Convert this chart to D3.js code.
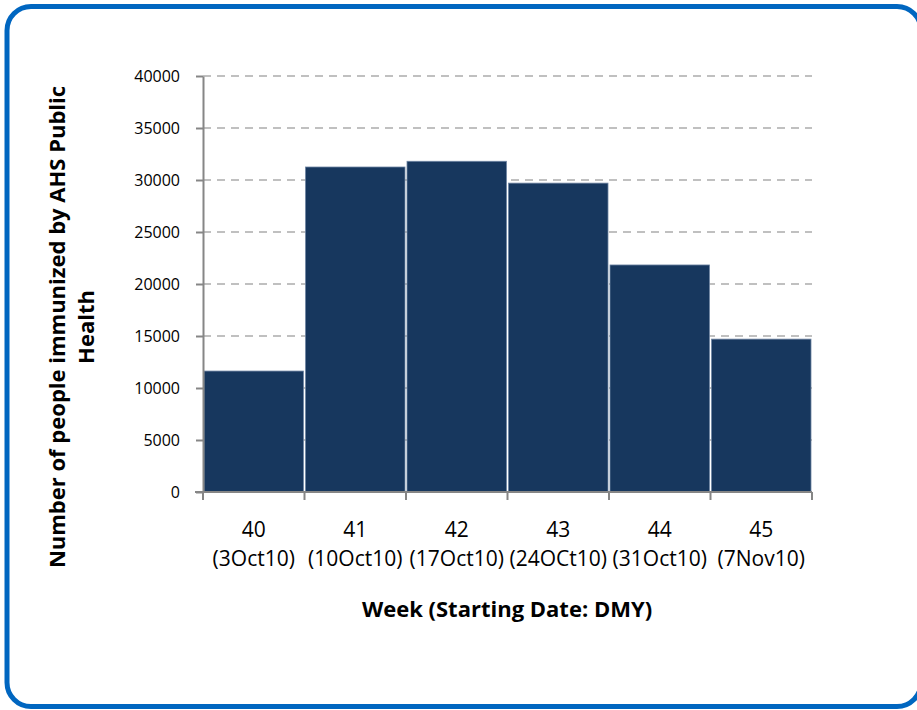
<!DOCTYPE html>
<html>
<head>
<meta charset="utf-8">
<script src="https://cdn.jsdelivr.net/npm/d3@7"></script>
<style>
  body { margin: 0; background: #fff; }
  text { font-family: "Open Sans", sans-serif; fill: #000; }
</style>
</head>
<body>
<svg width="917" height="710"></svg>
<script>
const weeks = ["40", "41", "42", "43", "44", "45"];
const startDates = ["(3Oct10)", "(10Oct10)", "(17Oct10)", "(24OCt10)", "(31Oct10)", "(7Nov10)"];
const immunized = [11630, 31250, 31800, 29700, 21830, 14700];
const yTicks = [0, 5000, 10000, 15000, 20000, 25000, 30000, 35000, 40000];

const svg = d3.select("svg");
const plotLeft = 203, plotRight = 812, plotTop = 76, plotBottom = 492;

// frame
svg.append("rect")
    .attr("x", 7).attr("y", 6.5)
    .attr("width", 914).attr("height", 700)
    .attr("rx", 24).attr("ry", 24)
    .attr("fill", "none")
    .attr("stroke", "#0066c0")
    .attr("stroke-width", 5);

const x = d3.scaleBand()
  .domain(weeks)
  .range([plotLeft, plotRight])
  .paddingInner(0);

const y = d3.scaleLinear()
  .domain([0, 40000])
  .range([plotBottom, plotTop]);

// grid
svg.append("g")
  .selectAll("line")
  .data(yTicks.slice(1))
  .enter()
  .append("line")
    .attr("x1", plotLeft).attr("x2", plotRight)
    .attr("y1", d => y(d)).attr("y2", d => y(d))
    .attr("stroke", "#c0c0c0")
    .attr("stroke-width", 2)
    .attr("stroke-dasharray", "8,6");

// bars
svg.append("g")
  .selectAll("rect")
  .data(immunized)
  .enter()
  .append("rect")
    .attr("x", (d, i) => x(weeks[i]) + 1)
    .attr("width", x.bandwidth() - 2)
    .attr("y", d => y(d))
    .attr("height", d => y(0) - y(d))
    .attr("fill", "#17375e")
    .attr("stroke", "#6f85a3")
    .attr("stroke-width", 0.8);

// axes
const yAxis = d3.axisLeft(y)
  .tickValues(yTicks)
  .tickSize(7)
  .tickSizeOuter(0)
  .tickPadding(16)
  .tickFormat(d3.format("d"));

const gy = svg.append("g")
    .attr("transform", `translate(${plotLeft}, 0)`)
    .call(yAxis);
gy.select(".domain").attr("stroke", "#868686").attr("stroke-width", 2);
gy.selectAll(".tick line").attr("stroke", "#868686").attr("stroke-width", 2);
gy.selectAll(".tick text")
    .style("font-family", "'Open Sans', sans-serif")
    .style("font-size", "16px")
    .attr("fill", "#000");

const xAxis = d3.axisBottom(x)
  .tickValues([])
  .tickSizeOuter(0);

const gx = svg.append("g")
    .attr("transform", `translate(0, ${plotBottom})`)
    .call(xAxis);
gx.select(".domain").attr("stroke", "#868686").attr("stroke-width", 2)
    .attr("d", `M${plotLeft - 8},0H${plotRight}`);

// x ticks at band boundaries
const bounds = weeks.map(w => x(w)).concat([x(weeks[weeks.length - 1]) + x.bandwidth()]);
gx.selectAll(".bound")
  .data(bounds)
  .enter()
  .append("line")
    .attr("x1", d => d).attr("x2", d => d)
    .attr("y1", 0).attr("y2", 8)
    .attr("stroke", "#868686")
    .attr("stroke-width", 2);

// x category labels
const labels = svg.append("g")
  .selectAll("text")
  .data(weeks)
  .enter()
  .append("text")
    .attr("x", d => x(d) + x.bandwidth() / 2)
    .attr("y", 537)
    .style("text-anchor", "middle")
    .style("font-size", "21px");
labels.append("tspan")
    .attr("x", d => x(d) + x.bandwidth() / 2)
    .text(d => d);
labels.append("tspan")
    .attr("x", d => x(d) + x.bandwidth() / 2)
    .attr("dy", 29)
    .text((d, i) => startDates[i]);

// axis titles
svg.append("text")
    .attr("x", 507)
    .attr("y", 617)
    .style("text-anchor", "middle")
    .style("font-size", "22px")
    .style("font-weight", "bold")
    .text("Week (Starting Date: DMY)");

const yTitle = svg.append("text")
    .attr("transform", "translate(0, 327) rotate(-90)")
    .style("text-anchor", "middle")
    .style("font-size", "22px")
    .style("font-weight", "bold");
yTitle.append("tspan")
    .attr("x", 0).attr("y", 65)
    .text("Number of people immunized by AHS Public");
yTitle.append("tspan")
    .attr("x", 0).attr("y", 94)
    .text("Health");
</script>
</body>
</html>
